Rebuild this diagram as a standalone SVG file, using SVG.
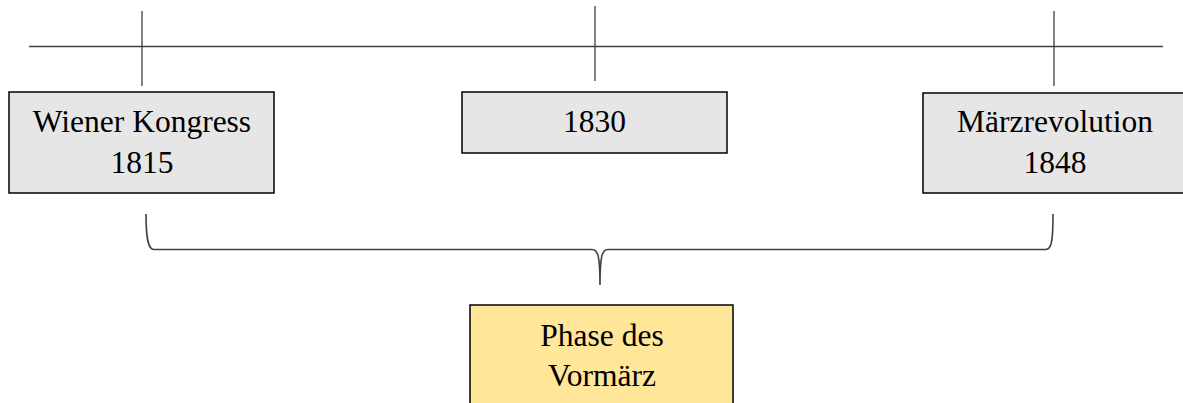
<svg xmlns="http://www.w3.org/2000/svg" width="1183" height="403" viewBox="0 0 1183 403">
<style>
.ln{stroke:#404040;stroke-width:1.3;fill:none}
.box{fill:#e6e6e6;stroke:#000;stroke-width:1.5}
.yel{fill:#ffe699;stroke:#000;stroke-width:1.5}
.t{font-family:"Liberation Serif","Times New Roman",serif;font-size:31.5px;fill:#000;text-anchor:middle}
</style>
<rect width="1183" height="403" fill="#fff"/>
<g id="connectors">
<line class="ln" x1="29" y1="46.5" x2="1163" y2="46.5"/>
<line class="ln" x1="142" y1="11" x2="142" y2="86"/>
<line class="ln" x1="595" y1="6" x2="595" y2="81"/>
<line class="ln" x1="1054" y1="11" x2="1054" y2="86"/>
<path class="ln" style="stroke-width:1.6" d="M146,214 C146,238 148,249.5 154,249.5 L592,249.5 C598,249.5 600,256 600,285 C600,256 602,249.5 608,249.5 L1046,249.5 C1052,249.5 1053,238 1053,214"/>
</g>
<g id="node-wiener">
<rect class="box" x="9" y="92" width="265" height="101"/>
<text class="t" x="142" y="132">Wiener Kongress</text>
<text class="t" x="142" y="173">1815</text>
</g>
<g id="node-1830">
<rect class="box" x="462" y="92" width="265" height="61"/>
<text class="t" x="594.5" y="132">1830</text>
</g>
<g id="node-maerz">
<rect class="box" x="923" y="93" width="265" height="100"/>
<text class="t" x="1055" y="132">Märzrevolution</text>
<text class="t" x="1055" y="173">1848</text>
</g>
<g id="node-vormaerz">
<rect class="yel" x="470" y="305" width="263" height="110"/>
<text class="t" x="602" y="346">Phase des</text>
<text class="t" x="602" y="386">Vormärz</text>
</g>
</svg>
